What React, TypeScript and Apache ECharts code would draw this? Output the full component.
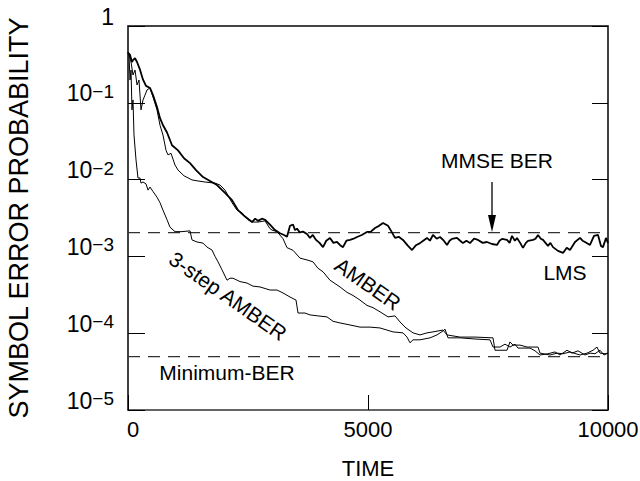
import React, { useEffect, useRef } from "react";
import * as echarts from "echarts";

// time (symbols) vs symbol error probability
const lms: [number, number][] = [
  [0, 0.45], [42, 0.42], [83, 0.34], [104, 0.36], [146, 0.38], [188, 0.34], [250, 0.27], [313, 0.2],
  [375, 0.166], [458, 0.156], [521, 0.126], [604, 0.088], [667, 0.063], [729, 0.051], [813, 0.041],
  [917, 0.028], [1042, 0.024], [1167, 0.019], [1292, 0.0164], [1417, 0.0133], [1563, 0.0108],
  [1708, 0.0096], [1854, 0.0085], [2021, 0.0067], [2167, 0.0054], [2292, 0.004], [2438, 0.0033],
  [2583, 0.0028], [2650, 0.0031], [2708, 0.0029], [2790, 0.0031], [2854, 0.003], [2958, 0.0026],
  [3063, 0.0022], [3167, 0.002], [3250, 0.0019], [3313, 0.0018], [3375, 0.0025], [3438, 0.0026],
  [3480, 0.0022], [3521, 0.0023], [3580, 0.00205], [3646, 0.0021], [3729, 0.00196], [3792, 0.00174],
  [3850, 0.0019], [3917, 0.00164], [3990, 0.0015], [4063, 0.00132], [4130, 0.0016], [4208, 0.00174],
  [4280, 0.0015], [4354, 0.00154], [4420, 0.0014], [4479, 0.00132], [4550, 0.0016], [4625, 0.00164],
  [4700, 0.0017], [4771, 0.00179], [4870, 0.0019], [4979, 0.00208], [5060, 0.0021], [5146, 0.00234],
  [5230, 0.0025], [5313, 0.00272], [5417, 0.0025], [5490, 0.0021], [5563, 0.00174], [5640, 0.0018],
  [5729, 0.00164], [5820, 0.0014], [5917, 0.00121], [6000, 0.0014], [6083, 0.00149], [6150, 0.0016],
  [6229, 0.00174], [6290, 0.0016], [6354, 0.0019], [6430, 0.0017], [6500, 0.00179], [6580, 0.0016],
  [6646, 0.00141], [6700, 0.0016], [6750, 0.00169], [6854, 0.00174], [6920, 0.0016], [6979, 0.00149],
  [7050, 0.0016], [7125, 0.00149], [7210, 0.0017], [7292, 0.00164], [7390, 0.0015], [7479, 0.00154],
  [7583, 0.00145], [7688, 0.00141], [7740, 0.0016], [7792, 0.00169], [7896, 0.00164], [7950, 0.0015],
  [8000, 0.00185], [8060, 0.0016], [8104, 0.00174], [8170, 0.0015], [8229, 0.00129], [8290, 0.0015],
  [8333, 0.00159], [8438, 0.00164], [8490, 0.0017], [8542, 0.0019], [8600, 0.0017], [8646, 0.00164],
  [8750, 0.00137], [8800, 0.0015], [8854, 0.00132], [8958, 0.00118], [9063, 0.00111], [9140, 0.0013],
  [9208, 0.00121], [9313, 0.00154], [9417, 0.00174], [9470, 0.0016], [9521, 0.00154], [9625, 0.00141],
  [9708, 0.00185], [9792, 0.0019], [9854, 0.00137], [9896, 0.00132], [9958, 0.00174], [10000, 0.00149],
];

const amber: [number, number][] = [
  [0, 0.45], [21, 0.42], [63, 0.34], [104, 0.23], [146, 0.267], [188, 0.171], [229, 0.198],
  [271, 0.081], [313, 0.109], [354, 0.126], [396, 0.147], [458, 0.156], [521, 0.119], [604, 0.081],
  [667, 0.051], [729, 0.038], [792, 0.024], [833, 0.021], [896, 0.022], [979, 0.0155], [1042, 0.0133],
  [1167, 0.0112], [1333, 0.0099], [1458, 0.0096], [1604, 0.0093], [1813, 0.009], [1917, 0.0085],
  [2021, 0.0073], [2167, 0.005], [2271, 0.004], [2375, 0.0037], [2500, 0.003], [2604, 0.0028],
  [2708, 0.0028], [2854, 0.0029], [2958, 0.0023], [3000, 0.0022], [3104, 0.0021], [3229, 0.0017],
  [3313, 0.0013], [3438, 0.0012], [3583, 0.00095], [3729, 0.0009], [3854, 0.00085], [3958, 0.0007],
  [4063, 0.00063], [4208, 0.00049], [4417, 0.0004], [4563, 0.00034], [4688, 0.00031], [4833, 0.00027],
  [4979, 0.00023], [5104, 0.000215], [5250, 0.00019], [5417, 0.000163], [5563, 0.000168], [5667, 0.00014],
  [5792, 0.000117], [5938, 0.000101], [6083, 0.000095], [6229, 0.000101], [6354, 0.000104],
  [6563, 0.00011], [6646, 0.000095], [6917, 0.000089], [7229, 0.000089], [7604, 0.000087],
  [7646, 0.00006], [7896, 0.00006], [7958, 0.000077], [8021, 0.00007], [8167, 0.00007], [8313, 0.000066],
  [8542, 0.000066], [8583, 0.000055], [8792, 0.000052], [8938, 0.000055], [9063, 0.000054],
  [9208, 0.000057], [9417, 0.000052], [9563, 0.000055], [9688, 0.00006], [9771, 0.000066],
  [9833, 0.000055], [9938, 0.000054], [10000, 0.000055],
];

const amber3: [number, number][] = [
  [0, 0.45], [21, 0.42], [42, 0.198], [63, 0.267], [83, 0.081], [104, 0.109], [125, 0.038],
  [167, 0.018], [208, 0.0105], [250, 0.0105], [271, 0.009], [313, 0.0093], [375, 0.0088],
  [417, 0.0073], [458, 0.008], [521, 0.007], [604, 0.0059], [667, 0.005], [729, 0.004], [813, 0.003],
  [875, 0.0024], [979, 0.0021], [1125, 0.0021], [1292, 0.00215], [1333, 0.00164], [1438, 0.00154],
  [1563, 0.00149], [1646, 0.00132], [1750, 0.00121], [1813, 0.001], [1875, 0.00085], [1958, 0.00067],
  [2063, 0.00049], [2125, 0.00052], [2188, 0.00052], [2333, 0.00047], [2479, 0.00045], [2604, 0.00041],
  [2750, 0.0004], [2958, 0.000365], [3104, 0.000365], [3229, 0.000334], [3375, 0.000296],
  [3500, 0.00027], [3542, 0.000183], [3688, 0.000183], [3792, 0.000173], [3958, 0.000168],
  [4146, 0.000163], [4271, 0.000143], [4417, 0.000136], [4625, 0.000128], [4833, 0.00012],
  [5042, 0.00012], [5250, 0.000117], [5521, 0.000104], [5729, 0.000101], [5813, 0.000089],
  [5875, 0.000075], [5938, 0.000082], [6083, 0.000082], [6292, 0.000087], [6438, 0.000095],
  [6563, 0.000107], [6604, 0.000113], [6667, 0.000087], [6917, 0.000087], [7229, 0.000084],
  [7542, 0.000082], [7604, 0.000066], [7750, 0.000066], [7854, 0.000072], [7958, 0.000066],
  [8063, 0.000072], [8125, 0.000064], [8375, 0.000064], [8479, 0.000059], [8583, 0.000052],
  [8750, 0.000054], [8896, 0.000057], [9000, 0.000052], [9146, 0.00006], [9250, 0.000055],
  [9375, 0.000059], [9521, 0.000052], [9625, 0.000055], [9729, 0.000054], [9833, 0.00006],
  [9917, 0.000052], [10000, 0.000055],
];

const mmseBer = 2.04e-3;
const minBer = 4.94e-5;
const xTicks = [0, 5000, 10000];

const FONT = "'Liberation Sans', Arial, Helvetica, sans-serif";

export default function App() {
  const ref = useRef<HTMLDivElement>(null);
  useEffect(() => {
    if (!ref.current) return;
    const chart = echarts.init(ref.current, null, { renderer: "svg" });
    const deg = Math.PI / 180;
    const yLabel = (v: number) => {
      const n = Math.round(Math.log10(v));
      return n === 0 ? "{b|1}" : `{b|10}{s|\u2212${-n}}`;
    };
    const xMin = xTicks[0];
    const xMax = xTicks[xTicks.length - 1];
    const dashed = (v: number) => ({
      type: "line",
      data: [[xMin, v], [xMax, v]],
      yAxisIndex: 1,
      symbol: "none",
      silent: true,
      lineStyle: { color: "#333", width: 1.3, type: [12, 8] },
      z: 2,
    });
    chart.setOption({
      animation: false,
      backgroundColor: "#fff",
      grid: {
        left: 128,
        top: 26,
        width: 480,
        height: 384,
        containLabel: false,
        outerBoundsMode: "none",
      },
      xAxis: [
        {
          type: "value",
          min: xMin,
          max: xMax,
          interval: 5000,
          name: "TIME",
          nameLocation: "middle",
          nameGap: 47,
          nameTextStyle: { fontFamily: FONT, fontSize: 22, color: "#000" },
          axisLine: { show: true, onZero: false, lineStyle: { color: "#333", width: 1.5 } },
          axisTick: { show: true, inside: true, length: 15, lineStyle: { color: "#000", width: 1 } },
          axisLabel: {
            fontFamily: FONT,
            fontSize: 22,
            color: "#000",
            margin: 8,
            formatter: (v: number) => (v === xMin ? `{z|${v}}` : String(v)),
            rich: {
              z: { fontFamily: FONT, fontSize: 22, color: "#000", padding: [0, 0, 0, 10] },
            },
          },
          splitLine: { show: false },
        },
        {
          type: "value",
          position: "top",
          min: xMin,
          max: xMax,
          axisLine: { show: true, onZero: false, lineStyle: { color: "#444", width: 2 } },
          axisTick: { show: false },
          axisLabel: { show: false },
          splitLine: { show: false },
        },
      ],
      yAxis: [
        {
          type: "log",
          logBase: 10,
          min: 1e-5,
          max: 1,
          splitNumber: 5,
          name: "SYMBOL ERROR PROBABILITY",
          nameLocation: "middle",
          nameGap: 96,
          nameTextStyle: { fontFamily: FONT, fontSize: 27, color: "#000" },
          axisLine: { show: true, onZero: false, lineStyle: { color: "#000", width: 1.5 } },
          axisTick: { show: true, inside: true, length: 17, lineStyle: { color: "#000", width: 1 } },
          axisLabel: {
            margin: 14,
            fontFamily: FONT,
            fontSize: 22,
            color: "#000",
            formatter: yLabel,
            padding: [0, 0, 18, 0],
            rich: {
              b: { fontFamily: FONT, fontSize: 23, lineHeight: 24, color: "#000", verticalAlign: "top" },
              s: { fontFamily: FONT, fontSize: 19, lineHeight: 20, color: "#000", verticalAlign: "top" },
            },
          },
          splitLine: { show: false },
        },
        {
          type: "log",
          logBase: 10,
          min: 1e-5,
          max: 1,
          splitNumber: 5,
          position: "right",
          axisLine: { show: true, onZero: false, lineStyle: { color: "#000", width: 1.5 } },
          axisTick: { show: true, inside: true, length: 16, lineStyle: { color: "#000", width: 1 } },
          axisLabel: { show: false },
          splitLine: { show: false },
        },
      ],
      series: [
        dashed(mmseBer),
        dashed(minBer),
        {
          name: "3-step AMBER",
          type: "line",
          data: amber3,
          symbol: "none",
          lineStyle: { color: "#000", width: 1 },
          z: 3,
        },
        {
          name: "AMBER",
          type: "line",
          data: amber,
          symbol: "none",
          lineStyle: { color: "#000", width: 1 },
          z: 3,
        },
        {
          name: "LMS",
          type: "line",
          data: lms,
          symbol: "none",
          lineStyle: { color: "#000", width: 1.8 },
          z: 4,
        },
      ],
      graphic: [
        {
          type: "text",
          x: 497,
          y: 160,
          style: { text: "MMSE BER", font: `21px ${FONT}`, fill: "#000", align: "center", verticalAlign: "middle" },
        },
        {
          type: "line",
          shape: { x1: 492, y1: 182, x2: 492, y2: 218 },
          style: { stroke: "#000", lineWidth: 1.3 },
        },
        {
          type: "polygon",
          shape: { points: [[488, 215], [496, 215], [492, 232]] },
          style: { fill: "#000" },
        },
        {
          type: "text",
          x: 565,
          y: 272,
          style: { text: "LMS", font: `21px ${FONT}`, fill: "#000", align: "center", verticalAlign: "middle" },
        },
        {
          type: "text",
          x: 227,
          y: 372,
          style: { text: "Minimum-BER", font: `21px ${FONT}`, fill: "#000", align: "center", verticalAlign: "middle" },
        },
        {
          type: "text",
          x: 368,
          y: 284,
          rotation: -35 * deg,
          style: { text: "AMBER", font: `21px ${FONT}`, fill: "#000", align: "center", verticalAlign: "middle" },
        },
        {
          type: "text",
          x: 228,
          y: 296,
          rotation: -35 * deg,
          style: { text: "3-step AMBER", font: `21px ${FONT}`, fill: "#000", align: "center", verticalAlign: "middle" },
        },
      ],
    });
    return () => chart.dispose();
  }, []);
  return (
    <div
      ref={ref}
      style={{ position: "fixed", left: 0, top: 0, width: 640, height: 481, background: "#fff" }}
    />
  );
}
